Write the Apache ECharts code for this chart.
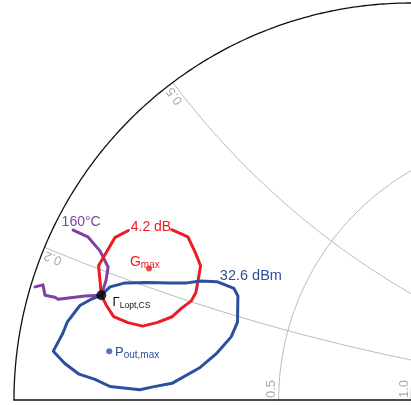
<!DOCTYPE html>
<html>
<head>
<meta charset="utf-8">
<script src="https://cdn.jsdelivr.net/npm/echarts@6/dist/echarts.min.js"></script>
<style>
  html, body { margin: 0; padding: 0; background: #fff; }
  #chart { width: 411px; height: 405px; }
</style>
</head>
<body>
<div id="chart"></div>
<script>
// Load-pull contours on the upper-left quadrant of a Smith chart.
// All points are reflection coefficients [Re(Γ), Im(Γ)].

// 4.2 dB gain contour (open at the label gap)
const gainContour = [
  [-0.603, 0.429], [-0.562, 0.411], [-0.544, 0.373], [-0.530, 0.338],
  [-0.537, 0.297], [-0.542, 0.270], [-0.554, 0.249], [-0.577, 0.232],
  [-0.603, 0.209], [-0.640, 0.195], [-0.676, 0.186], [-0.713, 0.195],
  [-0.749, 0.210], [-0.767, 0.238], [-0.780, 0.264], [-0.783, 0.297],
  [-0.787, 0.338], [-0.746, 0.409], [-0.712, 0.427]
];

// 32.6 dBm output-power contour (closed)
const poutContour = [
  [-0.780, 0.264], [-0.758, 0.285], [-0.720, 0.295], [-0.665, 0.296],
  [-0.607, 0.295], [-0.564, 0.295], [-0.531, 0.300], [-0.489, 0.298],
  [-0.446, 0.281], [-0.436, 0.262], [-0.437, 0.196], [-0.453, 0.159],
  [-0.491, 0.116], [-0.531, 0.082], [-0.602, 0.042], [-0.650, 0.033],
  [-0.683, 0.026], [-0.758, 0.034], [-0.796, 0.052], [-0.836, 0.065],
  [-0.872, 0.092], [-0.901, 0.123], [-0.877, 0.168], [-0.866, 0.196],
  [-0.834, 0.238], [-0.809, 0.252], [-0.780, 0.264]
];

// 160 °C channel-temperature contour
const tempContour = [
  [-0.947, 0.285], [-0.927, 0.290], [-0.922, 0.264], [-0.897, 0.259],
  [-0.889, 0.254], [-0.821, 0.262], [-0.816, 0.257], [-0.780, 0.264],
  [-0.768, 0.302], [-0.763, 0.335], [-0.783, 0.375], [-0.814, 0.411],
  [-0.851, 0.428]
];

// Marked reflection coefficients
const gammaLoptCS = [-0.780, 0.264];
const gammaGmax = [-0.660, 0.331];
const gammaPoutMax = [-0.760, 0.123];

// Smith chart grid
const resistanceValues = [0.5, 1.0];
const reactanceValues = [0.2, 0.5];
const resistanceLabels = ['0.5', '1.0'];
const reactanceLabels = ['0.2', '0.5'];

const contourLabels = { gain: '4.2 dB', pout: '32.6 dBm', temp: '160°C' };

const FONT = '"Liberation Sans", Arial, Helvetica, sans-serif';
const RED = '#ec1c24';
const BLUE = '#2d4f9f';
const PURPLE = '#7f42a2';
const GRID = '#b9b9b9';
const GRID_TEXT = '#ababab';

function resistanceCircle(r) {
  const c = r / (1 + r), rad = 1 / (1 + r), pts = [];
  for (let i = 0; i <= 720; i++) {
    const t = Math.PI * i / 720;
    const re = c + rad * Math.cos(t), im = rad * Math.sin(t);
    if (re <= 0.03) pts.push([re, im]);
  }
  return pts;
}

function reactanceArc(x) {
  const rad = 1 / x;
  const a = Math.PI - 2 * Math.atan(x);
  const ps = Math.atan2(Math.sin(a) - rad, Math.cos(a) - 1);
  const pts = [];
  for (let i = 0; i <= 800; i++) {
    const t = ps + (-Math.PI / 2 - ps) * i / 800;
    const re = 1 + rad * Math.cos(t), im = rad + rad * Math.sin(t);
    if (re <= 0.03) pts.push([re, im]);
  }
  return pts;
}

function outerArc() {
  const pts = [];
  for (let i = 0; i <= 400; i++) {
    const t = Math.PI / 2 + Math.PI / 2 * i / 400;
    pts.push([Math.cos(t), Math.sin(t)]);
  }
  return pts;
}

function lineSeries(data, color, width, z) {
  return {
    type: 'line', data: data, showSymbol: false, symbol: 'none', silent: true,
    clip: false, z: z || 2, smooth: false,
    lineStyle: { color: color, width: width, join: 'round', cap: 'round' }
  };
}

const series = [];
resistanceValues.forEach(r => series.push(lineSeries(resistanceCircle(r), GRID, 1, 1)));
reactanceValues.forEach(x => series.push(lineSeries(reactanceArc(x), GRID, 1, 1)));
series.push(lineSeries(outerArc(), '#111', 1.3, 2));
series.push(lineSeries([[-1, 0], [0, 0]], '#111', 1.3, 2));
series.push(lineSeries(tempContour, PURPLE, 3, 3));
series.push(lineSeries(gainContour, RED, 3, 3));
series.push(lineSeries(poutContour, BLUE, 3, 3));
series.push({
  type: 'scatter', silent: true, z: 5,
  data: [
    { value: gammaLoptCS, symbolSize: 10, itemStyle: { color: '#000' } },
    { value: gammaGmax, symbolSize: 6, itemStyle: { color: RED } },
    { value: gammaPoutMax, symbolSize: 6, itemStyle: { color: BLUE } }
  ]
});

const chart = echarts.init(document.getElementById('chart'), null, { renderer: 'canvas' });
chart.setOption({
  animation: false,
  backgroundColor: '#fff',
  grid: { left: 14, right: 0, top: 3, bottom: 5 },
  xAxis: { type: 'value', min: -1, max: 0, show: false },
  yAxis: { type: 'value', min: 0, max: 1, show: false },
  series: series
});

// Text annotations placed from the grid's own coordinate conversion
const toPx = p => chart.convertToPixel({ gridIndex: 0 }, p);
const measure = (() => {
  const ctx = document.createElement('canvas').getContext('2d');
  return (text, size) => { ctx.font = size + 'px ' + FONT; return ctx.measureText(text).width; };
})();

function text(str, x, y, size, color, align, vAlign, rotation) {
  return {
    type: 'text', x: x, y: y, rotation: rotation || 0, silent: true, z: 10,
    style: {
      text: str, fill: color, fontSize: size, fontFamily: FONT,
      align: align || 'left', verticalAlign: vAlign || 'middle'
    }
  };
}

// symbol with subscript: main glyph then smaller, slightly lowered text
function subscripted(main, sub, x, y, size, subSize, color, drop) {
  const w = measure(main, size);
  return [
    text(main, x, y, size, color, 'left', 'middle'),
    text(sub, x + w, y + drop, subSize, color, 'left', 'middle')
  ];
}

const graphic = [];

// resistance labels along the real axis
resistanceValues.forEach((r, i) => {
  const p = toPx([(r - 1) / (r + 1), 0]);
  graphic.push(text(resistanceLabels[i], p[0] - 0.5, p[1] - 2, 13, GRID_TEXT, 'left', 'bottom', Math.PI / 2));
});

// reactance labels at the rim, reading outward
reactanceValues.forEach((x, i) => {
  const a = Math.PI - 2 * Math.atan(x);
  const p = toPx([Math.cos(a), Math.sin(a)]);
  const inX = -Math.cos(a), inY = Math.sin(a);     // inward, screen space
  const d = 3;
  graphic.push(text(reactanceLabels[i], p[0] + inX * d, p[1] + inY * d, 13, GRID_TEXT, 'right', 'bottom', a));
});

// contour labels
const gA = toPx(gainContour[gainContour.length - 1]);
const gB = toPx(gainContour[0]);
graphic.push(text(contourLabels.gain, (gA[0] + gB[0]) / 2 + 1, (gA[1] + gB[1]) / 2 - 3, 14, RED, 'center', 'middle'));
const pA = toPx(poutContour[7]);
graphic.push(text(contourLabels.pout, pA[0] + 3, pA[1] - 5.3, 14.5, BLUE, 'left', 'middle'));
const tA = toPx(tempContour[tempContour.length - 1]);
graphic.push(text(contourLabels.temp, tA[0] + 8, tA[1] - 7.5, 14, PURPLE, 'center', 'middle'));

// point labels
const l = toPx(gammaLoptCS);
graphic.push(...subscripted('Γ', 'Lopt,CS', l[0] + 11.2, l[1] + 7.2, 13, 8.5, '#111', 3));
const g = toPx(gammaGmax);
graphic.push(...subscripted('G', 'max', g[0] - 19, g[1] - 6.2, 14, 10, RED, 2.6));
const q = toPx(gammaPoutMax);
graphic.push(...subscripted('P', 'out,max', q[0] + 5.7, q[1] + 1, 13, 10, BLUE, 2.8));

chart.setOption({ graphic: graphic });
</script>
</body>
</html>
